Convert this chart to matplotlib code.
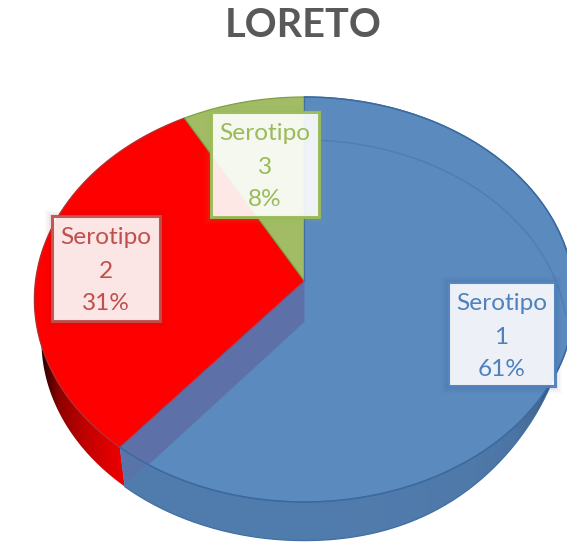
import numpy as np
import matplotlib
matplotlib.use("Agg")
import matplotlib.pyplot as plt
from matplotlib.colors import LinearSegmentedColormap as LSC
from matplotlib.patches import Polygon, Rectangle

title = "LORETO"
categories = ["Serotipo", "Serotipo", "Serotipo"]
numbers = ["1", "2", "3"]
values = [61, 31, 8]

top_colors = ["#5B8ABF", "#FF0000", "#A1BC65"]
label_colors = ["#4F81BD", "#C0504D", "#9BBB59"]
glow_colors = ["#2F4F75", "#8B1A1A", "#9BBB59"]
label_boxes = [(448, 282, 107, 104), (52, 216, 108, 105), (211, 112, 108, 105)]

plt.rcParams["font.family"] = ["Lato", "DejaVu Sans"]
fig = plt.figure(figsize=(5.67, 5.43), dpi=100)
ax = fig.add_axes([0, 0, 1, 1])

K = 0.0913
CX = 304.5


def project(theta_deg, cy=281.0, a=269.0, b=200.8, r=1.0, cx=CX):
    t = np.radians(theta_deg)
    x = r * np.sin(t)
    y = -r * np.cos(t)
    d = 1 - K * y
    return np.column_stack([cx + a * x / d, cy + b * y / d])


def upper(t):
    return project(t)


def lower(t):
    t = np.asarray(t, dtype=float)
    a = 262.0 - 18.0 * np.where((t > 90) & (t < 180), np.sin(np.radians(2 * t - 180)), 0.0)
    return project(t, cy=322.0, a=a, b=198.6)


def gradient_side(pts, xs, cols):
    cmap = LSC.from_list("g", list(zip((np.array(xs) - xs[0]) / (xs[-1] - xs[0]), cols)))
    im = ax.imshow(np.linspace(0, 1, 512)[None, :], extent=(xs[0], xs[-1], 543, 0),
                   cmap=cmap, aspect="auto", zorder=1, interpolation="bilinear")
    patch = Polygon(pts, closed=True, transform=ax.transData, fc="none", ec="none")
    ax.add_patch(patch)
    im.set_clip_path(patch)


edges = np.cumsum([0] + values) / sum(values) * 360.0
split12, split23 = edges[1], edges[2]

# side walls
t_blue = np.linspace(80, split12, 200)
blue_side = np.vstack([upper(t_blue), lower(t_blue[::-1])])
gradient_side(blue_side, [110, 300, 470, 515, 540, 556, 575],
              ["#527FB0", "#527DB1", "#5079AB", "#4A72A2", "#3F5F88", "#2A3F5C", "#16263A"])
ax.plot(*lower(t_blue).T, color="#3F6FA5", lw=1.0, zorder=1.5)

t_red = np.linspace(split12, 280, 100)
red_side = np.vstack([upper(t_red), lower(t_red[::-1])])
gradient_side(red_side, [38, 46, 60, 85, 110, 125],
              ["#200000", "#400000", "#900000", "#C00000", "#E00000", "#EE0000"])

# top faces
for i, (a0, a1) in enumerate(zip(edges[:-1], edges[1:])):
    t = np.linspace(a0, a1, 240)
    pts = np.vstack([[project(0, r=0)[0]], upper(t)])
    ec = ["#3F6FA5", "#B03030", "#7F9F45"][i]
    ax.add_patch(Polygon(pts, closed=True, fc=top_colors[i], ec=ec, lw=0.9, zorder=2 + (i == 0) * 0.5))

# translucent inner wall of the front slice
p_up = upper(np.array([split12]))[0]
p_lo = lower(np.array([split12]))[0]
apex_u = project(0, r=0)[0]
apex_l = project(0, cy=322.0, a=262.0, b=198.6, r=0)[0]
ax.add_patch(Polygon([apex_u, apex_l, p_lo, p_up], closed=True, fc="#5D71A8", ec="#5A82B8",
                     lw=0.5, zorder=3))
t_front = np.linspace(120, split12, 150)
ax.add_patch(Polygon(np.vstack([upper(t_front), lower(t_front[::-1])]), closed=True,
                     fc="#4F7BA8", ec="none", alpha=0.35, zorder=3.1))
# re-stroke rim lines over the wall
t_rim = np.linspace(0, split12, 300)
ax.plot(*upper(t_rim).T, color="#3A6A9F", lw=1.1, zorder=3.2)
t_back = np.linspace(0, 88, 120)
ax.plot(*lower(t_back).T, color="#4F7DB4", lw=1.0, zorder=3.2)
ax.plot([apex_u[0], p_up[0]], [apex_u[1], p_up[1]], color="#FF0000", lw=0.6, zorder=3.2, alpha=0.5)

# data labels
total = sum(values)
for i, (x, y, w, h) in enumerate(label_boxes):
    c = label_colors[i]
    for grow, al in [(8, 0.025), (6, 0.04), (4, 0.05), (2, 0.07)]:
        ax.add_patch(Rectangle((x - grow + 1, y - grow + 2), w + 2 * grow - 2, h + 2 * grow - 2,
                               fc=glow_colors[i], ec="none", alpha=al, zorder=4))
    ax.add_patch(Rectangle((x, y), w, h, fc="white", ec="none", alpha=0.9, zorder=4.5))
    ax.add_patch(Rectangle((x, y), w, h, fc="none", ec=c, lw=2.2, alpha=0.95, zorder=4.6))
    pct = round(values[i] / total * 100)
    cx = x + w / 2
    for line, yy in zip([categories[i], numbers[i], f"{pct}%"], [22, 55, 87]):
        ax.text(cx, y + yy, line, color=c, fontsize=17.6, ha="center", va="center", zorder=5)

ax.text(303, 25.5, title, color="#595959", fontsize=28.5, fontweight="bold", ha="center", va="center", zorder=5)

ax.set_xlim(0, 567)
ax.set_ylim(543, 0)
ax.axis("off")
fig.savefig("out.png", dpi=100, facecolor="white")
